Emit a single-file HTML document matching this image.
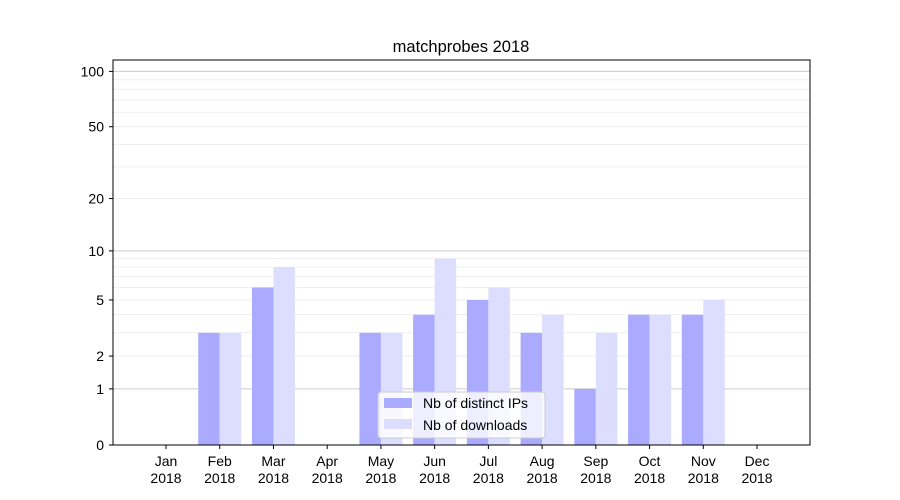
<!DOCTYPE html>
<html><head><meta charset="utf-8"><style>body{margin:0;background:#fff}svg{display:block;font-family:"Liberation Sans","DejaVu Sans",sans-serif}</style></head>
<body>
<svg id="s" width="900" height="500" xmlns="http://www.w3.org/2000/svg">
<rect width="900" height="500" fill="#fff"/>
<g id="grid"></g>
<g id="bars"></g>
<rect x="113" y="60" width="697" height="385" fill="none" stroke="#000" stroke-width="1"/>
<g id="ticks" font-size="14" fill="#000"></g>
<text x="461" y="52" font-size="16.5" text-anchor="middle">matchprobes 2018</text>
<g>
<rect x="378" y="392" width="167" height="46" fill="#fff" fill-opacity="0.8" stroke="#ccc" rx="3"/>
<rect x="384" y="398" width="28" height="10" fill="#aaaaff"/>
<rect x="384" y="419" width="28" height="10" fill="#ddddff"/>
<text x="423" y="408" font-size="14">Nb of distinct IPs</text>
<text x="423" y="430" font-size="14">Nb of downloads</text>
</g>
</svg>
<script>
const NS="http://www.w3.org/2000/svg";
function el(p,t,a,txt){const e=document.createElementNS(NS,t);for(const k in a)e.setAttribute(k,a[k]);if(txt!==undefined)e.textContent=txt;document.getElementById(p).appendChild(e);return e;}
const Y=v=>445-186.4*Math.log10(1+v);
const minors=[2,3,4,5,6,7,8,9,20,30,40,50,60,70,80,90];
minors.forEach(v=>el("grid","line",{x1:113,x2:810,y1:Y(v),y2:Y(v),stroke:"#ebebeb","stroke-width":0.8}));
[1,10,100].forEach(v=>el("grid","line",{x1:113,x2:810,y1:Y(v),y2:Y(v),stroke:"#cccccc","stroke-width":1}));
const ips=[0,3,6,0,3,4,5,3,1,4,4,0], dl=[0,3,8,0,3,9,6,4,3,4,5,0];
const mon=["Jan","Feb","Mar","Apr","May","Jun","Jul","Aug","Sep","Oct","Nov","Dec"];
for(let i=0;i<12;i++){
 const c=166+i*53.73;
 if(ips[i]>0) el("bars","rect",{x:c-21.5,y:Y(ips[i]),width:21.5,height:445-Y(ips[i]),fill:"#aaaaff"});
 if(dl[i]>0) el("bars","rect",{x:c,y:Y(dl[i]),width:21.5,height:445-Y(dl[i]),fill:"#ddddff"});
 el("ticks","line",{x1:c,x2:c,y1:445,y2:449,stroke:"#000"});
 el("ticks","text",{x:c,y:466,"text-anchor":"middle"},mon[i]);
 el("ticks","text",{x:c,y:483,"text-anchor":"middle"},"2018");
}
[0,1,2,5,10,20,50,100].forEach(v=>{
 el("ticks","line",{x1:109,x2:113,y1:Y(v),y2:Y(v),stroke:"#000"});
 el("ticks","text",{x:104,y:Y(v)+5,"text-anchor":"end"},String(v));
});
</script>
</body></html>
